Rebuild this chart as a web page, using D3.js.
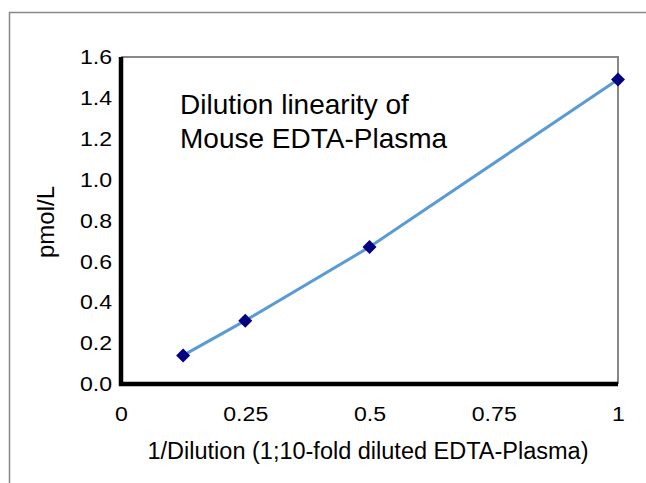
<!DOCTYPE html>
<html>
<head>
<meta charset="utf-8">
<script src="https://d3js.org/d3.v7.min.js"></script>
<style>
  body { margin: 0; background: #fff; }
  text { font-family: "Liberation Sans", Arial, sans-serif; fill: #000; }
</style>
</head>
<body>
<div id="chart"></div>
<script>
// data
var dilution = [0.125, 0.25, 0.5, 1];
var pmol = [0.14, 0.31, 0.67, 1.49];
var xTicks = [0, 0.25, 0.5, 0.75, 1];
var xTickLabels = ["0", "0.25", "0.5", "0.75", "1"];
var yTicks = [0, 0.2, 0.4, 0.6, 0.8, 1.0, 1.2, 1.4, 1.6];
var titleLines = ["Dilution linearity of", "Mouse EDTA-Plasma"];

var W = 646, H = 483;
var margin = {top: 57, right: 28, bottom: 99, left: 121},
    width = W - margin.left - margin.right,
    height = H - margin.top - margin.bottom;

var stretch = 1.1; // labels in the picture are a bit wide

var svg = d3.select("#chart")
  .append("svg")
    .attr("width", W)
    .attr("height", H);

// outer chart frame (cut off on right/bottom)
svg.append("rect")
  .attr("x", 9.5).attr("y", 12.5)
  .attr("width", W + 20).attr("height", H + 20)
  .attr("fill", "none")
  .attr("stroke", "#888")
  .attr("stroke-width", 1.5);

var g = svg.append("g")
  .attr("transform", "translate(" + margin.left + "," + margin.top + ")");

var x = d3.scaleLinear().domain([0, 1]).range([0, width]);
var y = d3.scaleLinear().domain([0, 1.6]).range([height, 0]);

// plot area border: thin gray top/right
g.append("path")
  .attr("d", "M0,0H" + width + "V" + height)
  .attr("fill", "none")
  .attr("stroke", "#888")
  .attr("stroke-width", 2);

// thick black axes
g.append("path")
  .attr("d", "M0,0V" + height + "H" + width)
  .attr("fill", "none")
  .attr("stroke", "#000")
  .attr("stroke-width", 4.5);

// y tick labels
var yAxis = g.append("g")
  .call(d3.axisLeft(y).tickValues(yTicks).tickSize(0).tickPadding(0).tickFormat(d3.format(".1f")));
yAxis.select(".domain").remove();
yAxis.selectAll("text")
  .attr("font-family", null)
  .style("font-size", "21px")
  .attr("x", -9 / stretch)
  .attr("transform", "scale(" + stretch + ",1)");

// x tick labels
var xAxis = g.append("g")
  .attr("transform", "translate(0," + height + ")")
  .call(d3.axisBottom(x).tickValues(xTicks).tickSize(0).tickPadding(0)
    .tickFormat(function(d, i) { return xTickLabels[i]; }));
xAxis.select(".domain").remove();
xAxis.selectAll("text")
  .attr("font-family", null)
  .attr("dy", null)
  .attr("y", 37)
  .style("font-size", "21px")
  .attr("transform", "scale(" + stretch + ",1)");

// axis titles
svg.append("text")
  .attr("x", 368).attr("y", 459)
  .attr("text-anchor", "middle")
  .style("font-size", "23.5px")
  .text("1/Dilution (1;10-fold diluted EDTA-Plasma)");

svg.append("text")
  .attr("transform", "translate(54,222) rotate(-90)")
  .attr("text-anchor", "middle")
  .style("font-size", "24px")
  .text("pmol/L");

// annotation
g.selectAll(".note")
  .data(titleLines)
  .enter()
  .append("text")
    .attr("class", "note")
    .attr("x", 59)
    .attr("y", function(d, i) { return 57 + i * 34; })
    .style("font-size", "28px")
    .text(function(d) { return d; });

var pts = dilution.map(function(d, i) { return {x: d, y: pmol[i]}; });

// line
g.append("path")
  .datum(pts)
  .attr("fill", "none")
  .attr("stroke", "#5b9bd5")
  .attr("stroke-width", 3)
  .attr("d", d3.line()
    .x(function(d) { return x(d.x); })
    .y(function(d) { return y(d.y); }));

// diamond markers
g.selectAll(".pt")
  .data(pts)
  .enter()
  .append("path")
    .attr("class", "pt")
    .attr("transform", function(d) { return "translate(" + x(d.x) + "," + y(d.y) + ")"; })
    .attr("d", "M0,-7L7,0L0,7L-7,0Z")
    .attr("fill", "#000080");
</script>
</body>
</html>
